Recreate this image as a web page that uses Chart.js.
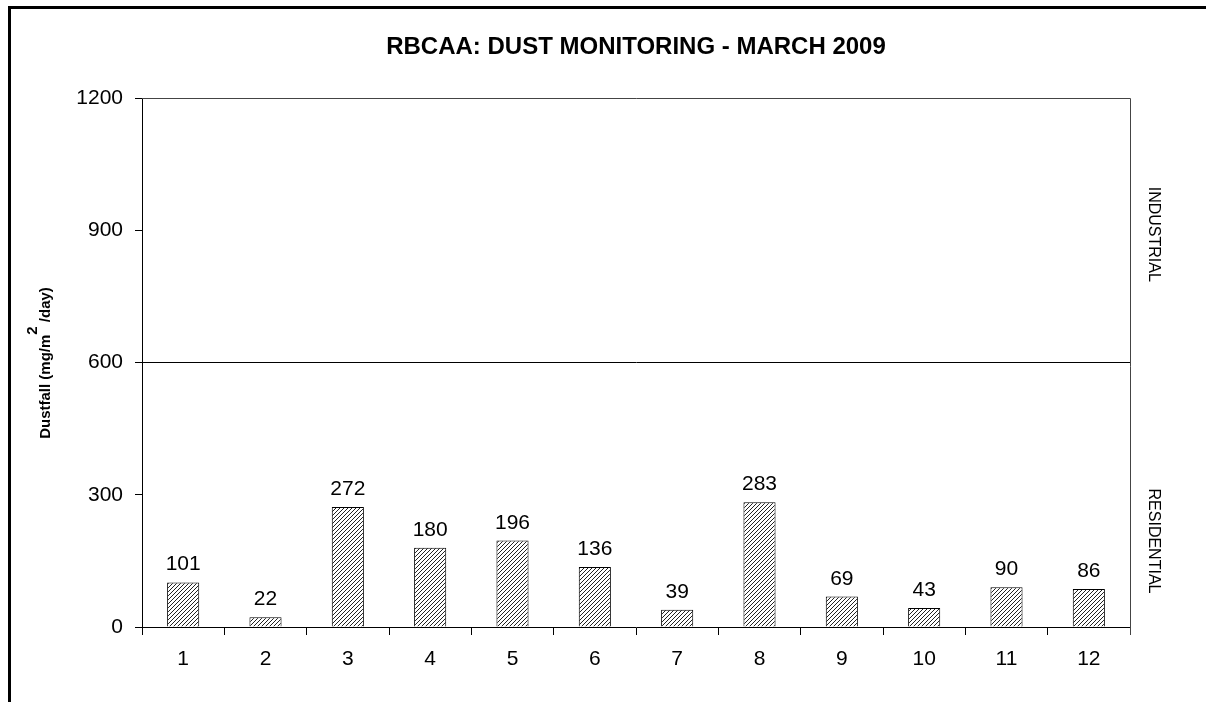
<!DOCTYPE html>
<html>
<head>
<meta charset="utf-8">
<script src="https://cdn.jsdelivr.net/npm/chart.js@4"></script>
<style>
  html, body { margin: 0; padding: 0; background: #fff; }
</style>
</head>
<body>
<canvas id="myChart" width="1206" height="702"></canvas>
<script>
// values
const sites = ['1', '2', '3', '4', '5', '6', '7', '8', '9', '10', '11', '12'];
const dustfall = [101, 22, 272, 180, 196, 136, 39, 283, 69, 43, 90, 86];
const zoneLabels = ['INDUSTRIAL', 'RESIDENTIAL'];
const zoneLimit = 600;
const yMax = 1200;

const FONT = "'Liberation Sans', Arial, sans-serif";

// diagonal hatch fill like the old excel bars
const makeHatch = () => {
  const c = document.createElement('canvas');
  c.width = 4; c.height = 4;
  const g = c.getContext('2d');
  g.fillStyle = '#fff';
  g.fillRect(0, 0, 4, 4);
  g.strokeStyle = '#222';
  g.lineWidth = 1;
  g.beginPath();
  g.moveTo(-1, 5); g.lineTo(5, -1);
  g.moveTo(-1, 1); g.lineTo(1, -1);
  g.moveTo(3, 5); g.lineTo(5, 3);
  g.stroke();
  return g.createPattern(c, 'repeat');
};

const extras = {
  id: 'extras',
  beforeDraw(chart) {
    const {ctx} = chart;
    ctx.save();
    ctx.fillStyle = '#fff';
    ctx.fillRect(0, 0, chart.width, chart.height);
    ctx.restore();
  },
  afterDatasetsDraw(chart) {
    const {ctx} = chart;
    ctx.save();
    // data labels
    ctx.fillStyle = '#000';
    ctx.font = '21px ' + FONT;
    ctx.textAlign = 'center';
    ctx.textBaseline = 'alphabetic';
    chart.getDatasetMeta(0).data.forEach((bar, i) => {
      ctx.fillText(String(dustfall[i]), bar.x, bar.y - 12);
    });
    ctx.restore();
  },
  afterDraw(chart) {
    const {ctx, chartArea: a, scales} = chart;
    ctx.save();
    // plot frame top + right
    ctx.strokeStyle = '#444';
    ctx.lineWidth = 1;
    ctx.beginPath();
    ctx.moveTo(a.left, a.top + 0.5);
    ctx.lineTo(a.right + 0.5, a.top + 0.5);
    ctx.lineTo(a.right + 0.5, a.bottom + 8);
    ctx.stroke();

    // outer thick frame
    ctx.strokeStyle = '#000';
    ctx.lineWidth = 3;
    ctx.beginPath();
    ctx.moveTo(9.5, chart.height + 5);
    ctx.lineTo(9.5, 7.5);
    ctx.lineTo(chart.width + 5, 7.5);
    ctx.stroke();

    // title
    ctx.fillStyle = '#000';
    ctx.font = 'bold 24px ' + FONT;
    ctx.textAlign = 'center';
    ctx.textBaseline = 'middle';
    ctx.fillText('RBCAA: DUST MONITORING - MARCH 2009', 636, 47);

    // zone labels on the right
    const y = scales.y;
    const zx = 1153;
    ctx.font = '16px ' + FONT;
    [[zoneLabels[0], (y.getPixelForValue(yMax) + y.getPixelForValue(zoneLimit)) / 2 + 4],
     [zoneLabels[1], 541]].forEach(([txt, cy]) => {
      ctx.save();
      ctx.translate(zx, cy);
      ctx.rotate(Math.PI / 2);
      ctx.fillText(txt, 0, 0);
      ctx.restore();
    });

    // y axis title with superscript 2
    ctx.save();
    ctx.translate(46, 363);
    ctx.rotate(-Math.PI / 2);
    ctx.font = 'bold 15px ' + FONT;
    const p1 = 'Dustfall (mg/m', p2 = '2', p3 = ' /day)';
    const w1 = ctx.measureText(p1).width;
    const w2 = ctx.measureText(p2).width;
    const w3 = ctx.measureText(p3).width;
    const x0 = -(w1 + w2 + w3) / 2;
    ctx.textAlign = 'left';
    ctx.fillText(p1, x0, 0);
    ctx.fillText(p2, x0 + w1, -13);
    ctx.fillText(p3, x0 + w1 + w2, 0);
    ctx.restore();

    ctx.restore();
  }
};

const ctx = document.getElementById('myChart');
const myChart = new Chart(ctx, {
  type: 'bar',
  data: {
    labels: sites,
    datasets: [{
      label: 'Dustfall',
      data: dustfall,
      backgroundColor: makeHatch(),
      borderColor: '#000',
      borderWidth: 1,
      borderSkipped: 'bottom',
      categoryPercentage: 1,
      barPercentage: 0.39
    }]
  },
  options: {
    responsive: false,
    animation: false,
    layout: {
      padding: {top: 98, right: 76, left: 0, bottom: 0}
    },
    plugins: {
      legend: {display: false},
      tooltip: {enabled: false},
      title: {display: false}
    },
    scales: {
      x: {
        grid: {
          offset: true,
          drawOnChartArea: false,
          tickLength: 8,
          tickColor: '#000'
        },
        border: {color: '#000'},
        ticks: {
          color: '#000',
          font: {family: FONT, size: 21},
          padding: 12
        },
        afterFit: s => { s.height = 75; }
      },
      y: {
        min: 0,
        max: yMax,
        grid: {
          color: c => (c.tick && c.tick.value === zoneLimit) ? '#000' : 'transparent',
          tickColor: '#000',
          tickLength: 7
        },
        border: {color: '#000'},
        ticks: {
          stepSize: 300,
          color: '#000',
          font: {family: FONT, size: 21},
          padding: 12,
          callback: v => String(v)
        },
        afterFit: s => { s.width = 142; }
      }
    }
  },
  plugins: [extras]
});
</script>
</body>
</html>
